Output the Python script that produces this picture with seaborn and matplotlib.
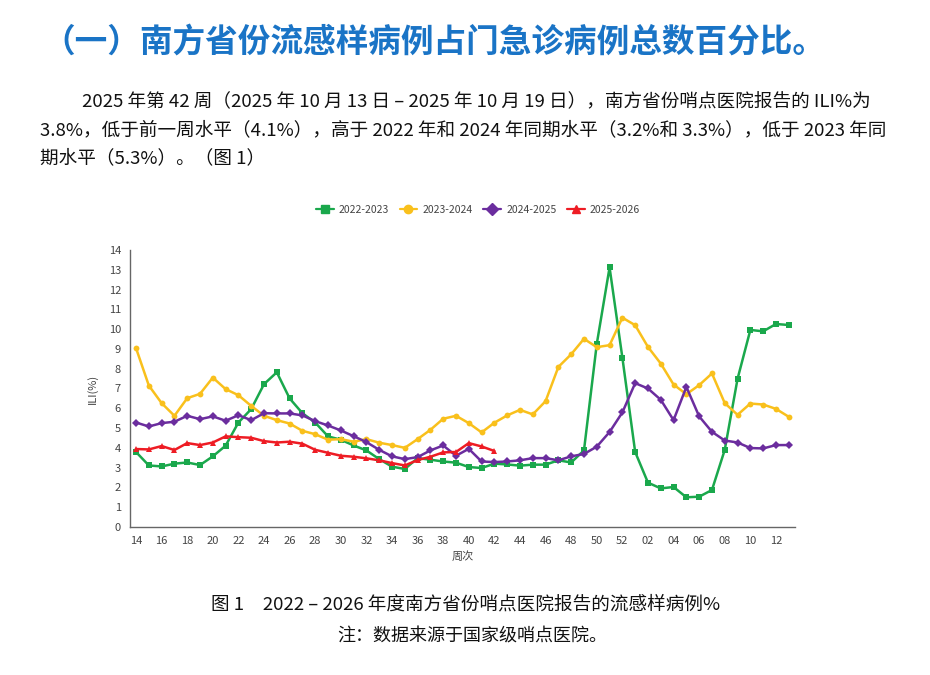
import numpy as np
import pandas as pd
import matplotlib
matplotlib.use('Agg')
import matplotlib.pyplot as plt
import seaborn as sns

# 周次 (第14周 ~ 次年第13周)
weeks = [str(w) for w in range(14, 53)] + ['%02d' % w for w in range(1, 14)]

ili_2022 = [3.79, 3.11, 3.06, 3.20, 3.26, 3.13, 3.57, 4.11, 5.28, 5.96, 7.22, 7.82, 6.50,
            5.75, 5.28, 4.58, 4.41, 4.12, 3.87, 3.43, 3.05, 2.93, 3.48, 3.40, 3.31, 3.25,
            3.03, 2.98, 3.20, 3.16, 3.10, 3.15, 3.15, 3.37, 3.26, 3.87, 9.25, 13.12, 8.56,
            3.79, 2.24, 1.95, 2.02, 1.50, 1.53, 1.87, 3.90, 7.49, 9.96, 9.89, 10.26, 10.21]
ili_2023 = [9.04, 7.15, 6.26, 5.62, 6.51, 6.73, 7.55, 6.97, 6.66, 6.12, 5.62, 5.40, 5.23,
            4.86, 4.69, 4.41, 4.44, 4.31, 4.44, 4.26, 4.14, 4.00, 4.44, 4.91, 5.47, 5.62,
            5.25, 4.78, 5.27, 5.64, 5.92, 5.69, 6.36, 8.09, 8.73, 9.51, 9.09, 9.19, 10.58,
            10.20, 9.10, 8.26, 7.20, 6.71, 7.17, 7.76, 6.26, 5.67, 6.24, 6.19, 5.97, 5.57]
ili_2024 = [5.28, 5.08, 5.25, 5.32, 5.62, 5.45, 5.59, 5.37, 5.65, 5.40, 5.75, 5.74, 5.74,
            5.64, 5.35, 5.13, 4.88, 4.59, 4.29, 3.90, 3.57, 3.43, 3.53, 3.87, 4.12, 3.60,
            3.95, 3.31, 3.28, 3.31, 3.37, 3.48, 3.48, 3.37, 3.57, 3.69, 4.06, 4.80, 5.79,
            7.27, 7.00, 6.43, 5.40, 7.08, 5.59, 4.81, 4.37, 4.27, 3.99, 3.97, 4.14, 4.14]
ili_2025 = [3.94, 3.92, 4.09, 3.89, 4.24, 4.14, 4.27, 4.58, 4.54, 4.51, 4.34, 4.27, 4.31,
            4.21, 3.90, 3.75, 3.60, 3.55, 3.47, 3.37, 3.23, 3.11, 3.38, 3.55, 3.77, 3.79,
            4.24, 4.07, 3.84]

seasons = ['2022-2023', '2023-2024', '2024-2025', '2025-2026']
series = [ili_2022, ili_2023, ili_2024, ili_2025]
colors = ['#1aa84c', '#f9c01c', '#6b2d9e', '#ee1c24']
marks = ['s', 'o', 'D', '^']

rows = []
for season, vals in zip(seasons, series):
    for i, v in enumerate(vals):
        rows.append({'pos': i, 'season': season, 'ili': v})
df = pd.DataFrame(rows)

sns.set_style('white')
plt.rcParams['font.family'] = ['Noto Sans CJK SC', 'DejaVu Sans']

fig = plt.figure(figsize=(9.3, 6.75), dpi=100)
ax = fig.add_axes([0.1398, 0.2193, 0.855 - 0.1398, 0.6296 - 0.2193])

sns.lineplot(data=df, x='pos', y='ili', hue='season', style='season',
             hue_order=seasons, style_order=seasons,
             palette=dict(zip(seasons, colors)),
             markers=dict(zip(seasons, marks)), dashes=False,
             linewidth=1.8, markersize=4.2, markeredgewidth=0,
             legend=False, ax=ax)

ax.set_xlim(-0.47, 51.5)
ax.set_ylim(0, 14)
ax.set_xticks(range(0, len(weeks), 2))
ax.set_xticklabels(weeks[::2])
ax.set_yticks(range(0, 15))
for s in ['top', 'right']:
    ax.spines[s].set_visible(False)
for s in ['left', 'bottom']:
    ax.spines[s].set_color('#666666')
    ax.spines[s].set_linewidth(1.0)
ax.tick_params(axis='both', colors='#666666', labelcolor='#444444',
               labelsize=8, length=3, width=0.8, direction='out')
ax.set_xlabel('周次', fontsize=8, color='#444444', labelpad=4)
ax.set_ylabel('ILI(%)', fontsize=8, color='#444444', labelpad=8)

handles = [plt.Line2D([], [], color=c, marker=m, markersize=6, linewidth=1.6)
           for c, m in zip(colors, marks)]
fig.legend(handles, seasons, loc='center', bbox_to_anchor=(478 / 930, 1 - 210 / 675),
           ncol=4, frameon=False, fontsize=7.5, labelcolor='#444444',
           handlelength=1.7, columnspacing=1.0, handletextpad=0.5)

fig.text(42 / 930, 1 - 42 / 675, '（一）南方省份流感样病例占门急诊病例总数百分比。',
         fontsize=23.5, fontweight='bold', color='#1a74c6', ha='left', va='center')

body = ['2025 年第 42 周（2025 年 10 月 13 日 – 2025 年 10 月 19 日），南方省份哨点医院报告的 ILI%为',
        '3.8%，低于前一周水平（4.1%），高于 2022 年和 2024 年同期水平（3.2%和 3.3%），低于 2023 年同',
        '期水平（5.3%）。（图 1）']
fig.text(82 / 930, 1 - 102 / 675, body[0], fontsize=13.4, color='#111111', va='center')
fig.text(40 / 930, 1 - 130 / 675, body[1], fontsize=13.4, color='#111111', va='center')
fig.text(40 / 930, 1 - 158 / 675, body[2], fontsize=13.4, color='#111111', va='center')

fig.text(466 / 930, 1 - 605 / 675, '图 1　2022 – 2026 年度南方省份哨点医院报告的流感样病例%',
         fontsize=13.4, color='#111111', ha='center', va='center')
fig.text(472 / 930, 1 - 637 / 675, '注：数据来源于国家级哨点医院。',
         fontsize=13, color='#111111', ha='center', va='center')

fig.savefig('out.png', dpi=100, facecolor='white')
